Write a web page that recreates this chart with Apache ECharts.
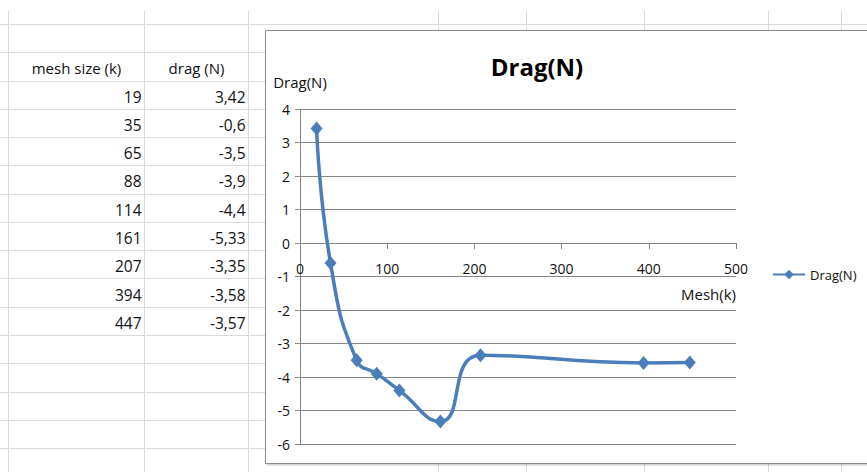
<!DOCTYPE html>
<html>
<head>
<meta charset="utf-8">
<script src="https://cdn.jsdelivr.net/npm/echarts@6/dist/echarts.min.js"></script>
<style>
  html, body { margin: 0; padding: 0; background: #fff; }
  #chart { width: 867px; height: 472px; }
</style>
</head>
<body>
<div id="chart"></div>
<script>
// Mesh study: drag force against mesh size
const tableHeaders = ['mesh size (k)', 'drag (N)'];
const meshSize = [19, 35, 65, 88, 114, 161, 207, 394, 447];
const drag = [3.42, -0.6, -3.5, -3.9, -4.4, -5.33, -3.35, -3.58, -3.57];
const chartTitle = 'Drag(N)';
const seriesName = 'Drag(N)';
const xName = 'Mesh(k)';
const yName = 'Drag(N)';
const xRange = [0, 500, 100];
const yRange = [-6, 4, 1];

const FONT = '"Open Sans", sans-serif';
const LINE_BLUE = '#4a7ebb';
const AXIS_GRAY = '#878787';
const CELL_GRAY = '#d9dadb';
const TEXT = '#111';

// worksheet layout
const rowH = 28.27;
const firstRowY = 24;
const colEdges = [8.5, 144.5, 248.5];
const extraCols = [438.5, 526.5, 644.5, 768.5, 841.5];
const frame = { x: 265.5, y: 30.5, w: 640, h: 433 };
const plot = { left: 300, right: 131, top: 109, bottom: 28 };
const plotH = 472 - plot.top - plot.bottom;

const graphics = [];

// cell borders
graphics.push({ type: 'line', z: -20, shape: { x1: 0, y1: firstRowY + 0.5, x2: 867, y2: firstRowY + 0.5 },
  style: { stroke: CELL_GRAY, lineWidth: 1 } });
for (let i = 1; i <= 15; i++) {
  const y = Math.round(firstRowY + i * rowH) + 0.5;
  graphics.push({ type: 'line', z: -20, shape: { x1: 0, y1: y, x2: frame.x, y2: y },
    style: { stroke: CELL_GRAY, lineWidth: 1 } });
}
colEdges.concat(extraCols).forEach(function (x) {
  graphics.push({ type: 'line', z: -20, shape: { x1: x, y1: 11, x2: x, y2: 472 },
    style: { stroke: CELL_GRAY, lineWidth: 1 } });
});

// header cells (centred)
const headerY = firstRowY + rowH * 1.5 + 2;
graphics.push({ type: 'text', z: -10, x: (colEdges[0] + colEdges[1]) / 2, y: headerY,
  style: { text: tableHeaders[0], font: '15px ' + FONT, fill: TEXT, textAlign: 'center', textVerticalAlign: 'middle' } });
graphics.push({ type: 'text', z: -10, x: (colEdges[1] + colEdges[2]) / 2, y: headerY,
  style: { text: tableHeaders[1], font: '15px ' + FONT, fill: TEXT, textAlign: 'center', textVerticalAlign: 'middle' } });

// data cells (right aligned, comma decimals)
meshSize.forEach(function (m, i) {
  const y = firstRowY + rowH * (i + 2.5) + 2;
  graphics.push({ type: 'text', z: -10, x: colEdges[1] - 3, y: y,
    style: { text: String(m), font: '15.5px ' + FONT, fill: TEXT, textAlign: 'right', textVerticalAlign: 'middle' } });
  graphics.push({ type: 'text', z: -10, x: colEdges[2] - 3, y: y,
    style: { text: String(drag[i]).replace('.', ','), font: '15.5px ' + FONT, fill: TEXT, textAlign: 'right', textVerticalAlign: 'middle' } });
});

// embedded chart frame
graphics.push({ type: 'rect', z: -5, shape: { x: frame.x, y: frame.y, width: frame.w, height: frame.h },
  style: { fill: '#fff', stroke: '#8a8a8a', lineWidth: 1, shadowBlur: 2, shadowColor: 'rgba(0,0,0,0.25)', shadowOffsetX: 1, shadowOffsetY: 1 } });

const points = meshSize.map(function (m, i) { return [m, drag[i]]; });

// horizontal axis crosses the vertical one at y = 0
const xAxisOffset = -plotH * (0 - yRange[0]) / (yRange[1] - yRange[0]);

const chart = echarts.init(document.getElementById('chart'), null, { renderer: 'svg' });
chart.setOption({
  animation: false,
  backgroundColor: '#fff',
  textStyle: { fontFamily: FONT },
  title: {
    text: chartTitle,
    left: 532,
    top: 49,
    textAlign: 'center',
    textStyle: { fontSize: 24, fontWeight: 'bold', color: '#000', fontFamily: FONT }
  },
  legend: {
    data: [seriesName],
    left: 772,
    top: 268,
    padding: 0,
    itemWidth: 32,
    itemHeight: 12,
    textStyle: { fontSize: 13, color: TEXT, fontFamily: FONT }
  },
  grid: { left: plot.left, right: plot.right, top: plot.top, bottom: plot.bottom, containLabel: false },
  xAxis: {
    type: 'value',
    position: 'bottom',
    offset: xAxisOffset,
    min: xRange[0],
    max: xRange[1],
    interval: xRange[2],
    name: xName,
    nameLocation: 'end',
    nameGap: 0,
    nameTextStyle: { fontSize: 15, color: TEXT, align: 'right', verticalAlign: 'top', padding: [43, 0, 0, 0] },
    axisLine: { show: true, onZero: false, lineStyle: { color: AXIS_GRAY, width: 1 } },
    axisTick: { show: true, length: 6, lineStyle: { color: AXIS_GRAY } },
    axisLabel: { margin: 18, fontSize: 14, color: TEXT },
    splitLine: { show: false }
  },
  yAxis: {
    type: 'value',
    min: yRange[0],
    max: yRange[1],
    interval: yRange[2],
    name: yName,
    nameLocation: 'end',
    nameGap: 27,
    nameTextStyle: { fontSize: 15, color: TEXT, align: 'center', verticalAlign: 'middle' },
    axisLine: { show: true, onZero: false, lineStyle: { color: AXIS_GRAY, width: 1 } },
    axisTick: { show: true, length: 5, lineStyle: { color: AXIS_GRAY } },
    axisLabel: { margin: 10, fontSize: 14, color: TEXT },
    splitLine: { show: true, lineStyle: { color: AXIS_GRAY, width: 1 } }
  },
  series: [{
    name: seriesName,
    type: 'line',
    data: points,
    smooth: 0.5,
    symbol: 'diamond',
    symbolSize: [12, 14],
    lineStyle: { color: LINE_BLUE, width: 3.5 },
    itemStyle: { color: LINE_BLUE }
  }],
  graphic: { elements: graphics }
});
</script>
</body>
</html>
